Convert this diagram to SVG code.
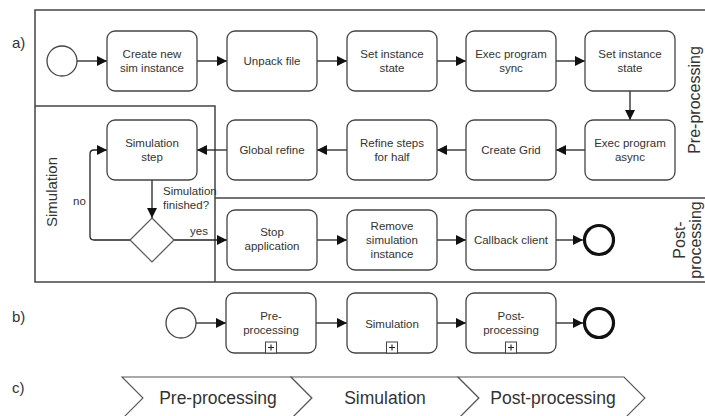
<svg xmlns="http://www.w3.org/2000/svg" width="705" height="416" viewBox="0 0 705 416">
<defs>
<marker id="arr" viewBox="0 0 10 10" refX="10" refY="5" markerUnits="userSpaceOnUse" markerWidth="11" markerHeight="10" orient="auto">
<path d="M0,0 L10,5 L0,10 z" fill="#111"/>
</marker>
</defs>
<style>
text{font-family:"Liberation Sans",Arial,sans-serif;fill:#333}
.t{font-size:11.5px;text-anchor:middle}
.task{fill:#fff;stroke:#444;stroke-width:1.3}
.lane{fill:none;stroke:#444;stroke-width:1.5}
.flow{fill:none;stroke:#222;stroke-width:1.3;marker-end:url(#arr)}
.lbl{font-size:16px;text-anchor:middle}
.big{font-size:17.5px;text-anchor:middle}
.lt{font-size:15px}
.chev{fill:#fff;stroke:#555;stroke-width:1.1}
.mk{fill:#fff;stroke:#444;stroke-width:1}
.pl{stroke:#222;stroke-width:1.1}
</style>
<rect width="705" height="416" fill="#fff"/>

<!-- part labels -->
<text class="lt" x="12" y="48">a)</text>
<text class="lt" x="12" y="322">b)</text>
<text class="lt" x="12" y="393">c)</text>

<!-- pool and lanes -->
<g id="pool">
<path class="lane" d="M712,10 H35 V282 H712"/>
<path class="lane" d="M35,106 H215 V282"/>
<path class="lane" d="M215,198 H712"/>
<text class="lbl" transform="translate(700,100) rotate(-90)">Pre-processing</text>
<text class="lbl" transform="translate(685,240) rotate(-90)">Post-</text>
<text class="lbl" transform="translate(701,240) rotate(-90)">processing</text>
<text class="lt" text-anchor="middle" transform="translate(57,192) rotate(-90)">Simulation</text>
</g>

<!-- connectors -->
<g id="connectors">
<line class="flow" x1="77" y1="61" x2="107" y2="61"/>
<line class="flow" x1="197" y1="61" x2="227" y2="61"/>
<line class="flow" x1="317" y1="61" x2="347" y2="61"/>
<line class="flow" x1="437" y1="61" x2="466" y2="61"/>
<line class="flow" x1="556" y1="61" x2="585" y2="61"/>
<line class="flow" x1="630" y1="91" x2="630" y2="120"/>
<line class="flow" x1="585" y1="150" x2="556" y2="150"/>
<line class="flow" x1="466" y1="150" x2="437" y2="150"/>
<line class="flow" x1="347" y1="150" x2="317" y2="150"/>
<line class="flow" x1="227" y1="150" x2="197" y2="150"/>
<line class="flow" x1="152" y1="180" x2="152" y2="218"/>
<path class="flow" d="M130,240 H94 Q90,240 90,236 V154 Q90,150 94,150 H107"/>
<line class="flow" x1="174" y1="240" x2="227" y2="240"/>
<line class="flow" x1="317" y1="240" x2="347" y2="240"/>
<line class="flow" x1="437" y1="240" x2="466" y2="240"/>
<line class="flow" x1="556" y1="240" x2="583" y2="240"/>
<line class="flow" x1="196" y1="323" x2="226" y2="323"/>
<line class="flow" x1="316" y1="323" x2="347" y2="323"/>
<line class="flow" x1="437" y1="323" x2="466" y2="323"/>
<line class="flow" x1="556" y1="323" x2="583" y2="323"/>
<text style="font-size:11.5px" x="163" y="195">Simulation</text>
<text style="font-size:11.5px" x="163" y="209">finished?</text>
<text style="font-size:11.5px" x="73" y="205">no</text>
<text style="font-size:11.5px" x="190" y="235">yes</text>
</g>

<!-- a) nodes -->
<g id="start-a"><circle cx="62" cy="61" r="15" fill="#fff" stroke="#444" stroke-width="1.3"/></g>
<g id="create-sim"><rect class="task" x="107" y="31" width="90" height="60" rx="8"/><text class="t" x="152" y="58">Create new</text><text class="t" x="152" y="72">sim instance</text></g>
<g id="unpack"><rect class="task" x="227" y="31" width="90" height="60" rx="8"/><text class="t" x="272" y="65">Unpack file</text></g>
<g id="set-state-1"><rect class="task" x="347" y="31" width="90" height="60" rx="8"/><text class="t" x="392" y="58">Set instance</text><text class="t" x="392" y="72">state</text></g>
<g id="exec-sync"><rect class="task" x="466" y="31" width="90" height="60" rx="8"/><text class="t" x="511" y="58">Exec program</text><text class="t" x="511" y="72">sync</text></g>
<g id="set-state-2"><rect class="task" x="585" y="31" width="90" height="60" rx="8"/><text class="t" x="630" y="58">Set instance</text><text class="t" x="630" y="72">state</text></g>

<g id="exec-async"><rect class="task" x="585" y="120" width="90" height="60" rx="8"/><text class="t" x="630" y="147">Exec program</text><text class="t" x="630" y="161">async</text></g>
<g id="create-grid"><rect class="task" x="466" y="120" width="90" height="60" rx="8"/><text class="t" x="511" y="154">Create Grid</text></g>
<g id="refine-half"><rect class="task" x="347" y="120" width="90" height="60" rx="8"/><text class="t" x="392" y="147">Refine steps</text><text class="t" x="392" y="161">for half</text></g>
<g id="global-refine"><rect class="task" x="227" y="120" width="90" height="60" rx="8"/><text class="t" x="272" y="154">Global refine</text></g>
<g id="sim-step"><rect class="task" x="107" y="120" width="90" height="60" rx="8"/><text class="t" x="152" y="147">Simulation</text><text class="t" x="152" y="161">step</text></g>
<g id="gateway"><polygon points="152,218 174,240 152,262 130,240" fill="#fff" stroke="#555" stroke-width="1.2"/></g>

<g id="stop-app"><rect class="task" x="227" y="210" width="90" height="60" rx="8"/><text class="t" x="272" y="236">Stop</text><text class="t" x="272" y="250">application</text></g>
<g id="remove-sim"><rect class="task" x="347" y="210" width="90" height="60" rx="8"/><text class="t" x="392" y="230">Remove</text><text class="t" x="392" y="244">simulation</text><text class="t" x="392" y="258">instance</text></g>
<g id="callback"><rect class="task" x="466" y="210" width="90" height="60" rx="8"/><text class="t" x="511" y="244">Callback client</text></g>
<g id="end-a"><circle cx="599" cy="240" r="14.5" fill="#fff" stroke="#111" stroke-width="3.2"/></g>

<!-- b) nodes -->
<g id="start-b"><circle cx="181" cy="323" r="15" fill="#fff" stroke="#444" stroke-width="1.3"/></g>
<g id="sub-pre"><rect class="task" x="226" y="293" width="90" height="60" rx="8"/><text class="t" x="271" y="320">Pre-</text><text class="t" x="271" y="334">processing</text>
<rect class="mk" x="265.5" y="342" width="11" height="11"/><path class="pl" d="M268,347.5 H274 M271,344.5 V350.5"/></g>
<g id="sub-sim"><rect class="task" x="347" y="293" width="90" height="60" rx="8"/><text class="t" x="392" y="328">Simulation</text>
<rect class="mk" x="386.5" y="342" width="11" height="11"/><path class="pl" d="M389,347.5 H395 M392,344.5 V350.5"/></g>
<g id="sub-post"><rect class="task" x="466" y="293" width="90" height="60" rx="8"/><text class="t" x="511" y="320">Post-</text><text class="t" x="511" y="334">processing</text>
<rect class="mk" x="505.5" y="342" width="11" height="11"/><path class="pl" d="M508,347.5 H514 M511,344.5 V350.5"/></g>
<g id="end-b"><circle cx="599" cy="323" r="14.5" fill="#fff" stroke="#111" stroke-width="3.2"/></g>

<!-- c) chevrons -->
<g id="chev-pre"><polygon class="chev" points="122,377 291,377 312,398 291,419 122,419 143,398"/><text class="big" x="218" y="404">Pre-processing</text></g>
<g id="chev-sim"><polygon class="chev" points="291,377 458,377 479,398 458,419 291,419 312,398"/><text class="big" x="385" y="404">Simulation</text></g>
<g id="chev-post"><polygon class="chev" points="458,377 624,377 645,398 624,419 458,419 479,398"/><text class="big" x="553" y="404">Post-processing</text></g>
</svg>
